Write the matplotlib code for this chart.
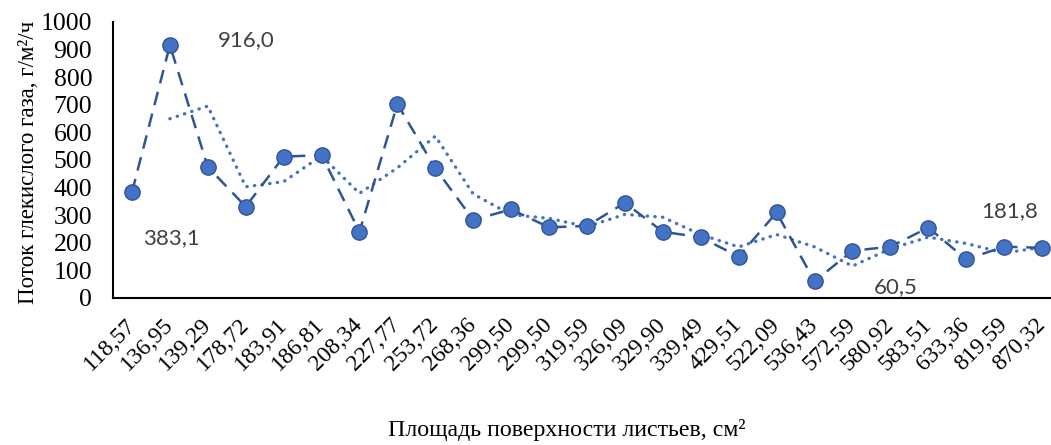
import numpy as np
import matplotlib
matplotlib.use("Agg")
import matplotlib.pyplot as plt

# площадь листьев (подписи категорий) и поток CO2
leaf_area = ["118,57", "136,95", "139,29", "178,72", "183,91", "186,81", "208,34",
             "227,77", "253,72", "268,36", "299,50", "299,50", "319,59", "326,09",
             "329,90", "339,49", "429,51", "522,09", "536,43", "572,59", "580,92",
             "583,51", "633,36", "819,59", "870,32"]
co2_flux = [383.1, 916.0, 475, 331, 512, 518, 240, 703, 470, 283, 321, 256, 261,
            345, 240, 220, 150, 310, 60.5, 171, 186, 255, 140, 186, 181.8]
# подписи значений: (индекс точки, смещение в пикселях)
value_labels = [(0, (39, -46)), (1, (76, 5)), (18, (81, -6)), (24, (-32, 37))]

blue = "#4472C4"
dark_blue = "#2F5597"

fig = plt.figure(figsize=(10.51, 4.45), dpi=100)
ax = fig.add_axes([113 / 1051, 1 - 298 / 445, 948 / 1051, 276 / 445])

x = np.arange(len(co2_flux))
y = np.array(co2_flux)

ax.plot(x, y, color=dark_blue, lw=1.8, ls=(0, (5.5, 3.5)), marker="o", ms=11,
        mfc=blue, mec=dark_blue, mew=1.0, zorder=3)

# линия тренда: скользящее среднее по двум точкам
ma = (y[1:] + y[:-1]) / 2
ax.plot(x[1:], ma, color=blue, lw=2.4, ls=(0, (0.1, 2.2)),
        dash_capstyle="round", zorder=2)

for i, (dx, dy) in value_labels:
    ax.annotate(f"{co2_flux[i]:.1f}".replace(".", ","), (x[i], y[i]),
                xytext=(dx, dy), textcoords="offset pixels",
                ha="center", va="center", fontsize=16, color="#404040",
                family="Lato")

ax.set_xlim(-0.5, len(x) - 0.5)
ax.set_ylim(0, 1000)
ax.set_yticks(range(0, 1001, 100))
ax.set_xticks(x)
ax.set_xticklabels(leaf_area, rotation=45, ha="right", va="center",
                   rotation_mode="anchor", family="Liberation Serif", fontsize=17)
for lab in ax.get_yticklabels():
    lab.set_family("Liberation Serif")
    lab.set_fontsize(18.5)
ax.tick_params(axis="both", length=0)
ax.tick_params(axis="y", pad=15)
ax.tick_params(axis="x", pad=17)

for s in ("top", "right"):
    ax.spines[s].set_visible(False)
for s in ("left", "bottom"):
    ax.spines[s].set_linewidth(1.5)
    ax.spines[s].set_color("black")

ax.set_ylabel("Поток глекислого газа, г/м²/ч", family="Liberation Serif",
              fontsize=16.5)
ax.yaxis.set_label_coords(-74 / 948, 0.49)
fig.text(567 / 1051, 1 - 430 / 445, "Площадь поверхности листьев, см²",
         ha="center", va="center", family="Liberation Serif", fontsize=17.2)

fig.savefig("out.png", dpi=100)
